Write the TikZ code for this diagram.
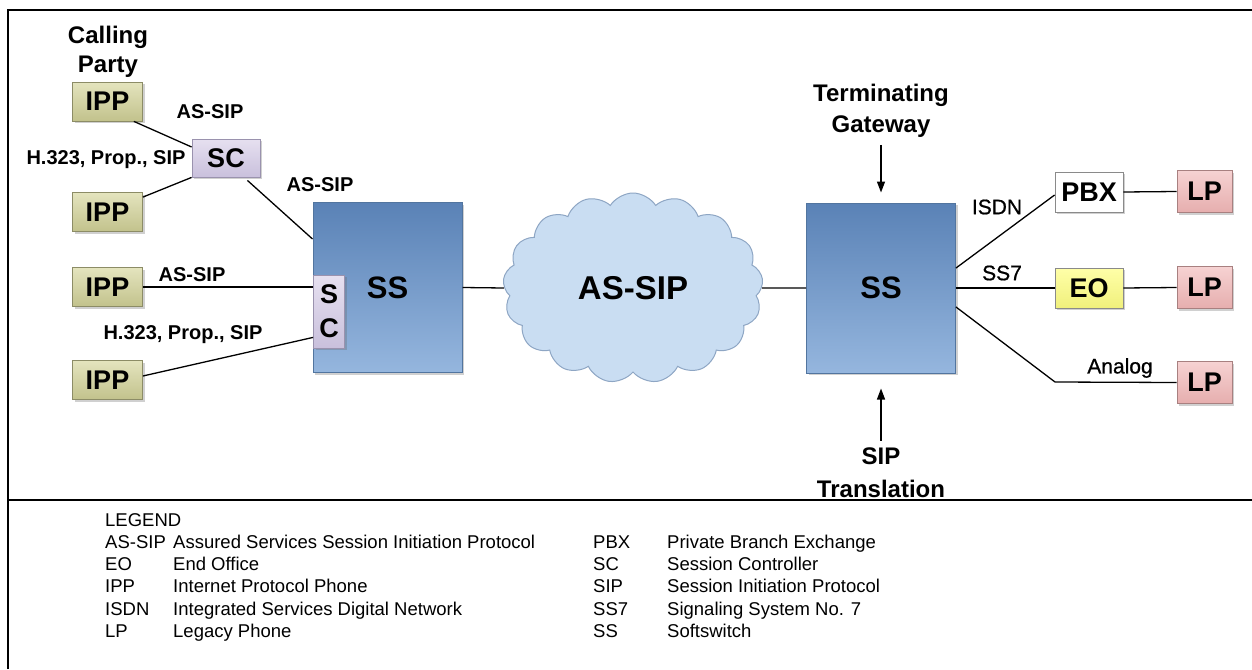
\documentclass[tikz,border=0pt]{standalone}
\usepackage{fontspec}
\setmainfont{Liberation Sans}
\usetikzlibrary{shapes.symbols,shadows,calc,arrows.meta}
\definecolor{ippTop}{HTML}{E4E4BE}
\definecolor{ippBot}{HTML}{C2C28C}
\definecolor{ippEdge}{HTML}{8C8C66}
\definecolor{scTop}{HTML}{E6E0F0}
\definecolor{scBot}{HTML}{C9C0DC}
\definecolor{scEdge}{HTML}{9A92AE}
\definecolor{ssTop}{HTML}{5A82B6}
\definecolor{ssBot}{HTML}{95B6DE}
\definecolor{ssEdge}{HTML}{52759F}
\definecolor{cloudFill}{HTML}{C9DDF2}
\definecolor{cloudEdge}{HTML}{8EA6C4}
\definecolor{eoTop}{HTML}{FFFFA8}
\definecolor{eoBot}{HTML}{F0F07C}
\definecolor{lpTop}{HTML}{F6D2D2}
\definecolor{lpBot}{HTML}{E6AEAE}
\definecolor{lpEdge}{HTML}{A88080}
\definecolor{boxEdge}{HTML}{8A8A8A}
\newcommand\dgBox{\fontsize{27}{34}\selectfont\bfseries}
\newcommand\dgSS{\fontsize{31}{34}\selectfont\bfseries}
\newcommand\dgCloud{\fontsize{33}{36}\selectfont\bfseries}
\newcommand\dgHead{\fontsize{24}{30}\selectfont\bfseries}
\newcommand\dgLab{\fontsize{20}{24}\selectfont\bfseries}
\newcommand\dgLabR{\fontsize{21}{24}\selectfont\addfontfeature{FakeBold=0.8}}
\newcommand\dgLeg{\fontsize{18.5}{22}\selectfont}
\tikzset{
  shad/.style={drop shadow={shadow xshift=2pt,shadow yshift=-2pt,opacity=0.3,fill=black!60}},
  ippbox/.style={shad,draw=ippEdge,line width=0.8pt,top color=ippTop,bottom color=ippBot,
    minimum width=70pt,minimum height=39pt,inner sep=0pt,font=\dgBox},
  scbox/.style={shad,draw=scEdge,line width=0.8pt,top color=scTop,bottom color=scBot,
    inner sep=0pt,font=\dgBox},
  ssbox/.style={shad,draw=ssEdge,line width=1pt,top color=ssTop,bottom color=ssBot,
    minimum width=149pt,minimum height=170pt,inner sep=0pt,font=\dgSS},
  pbxbox/.style={shad,draw=boxEdge,line width=0.8pt,fill=white,
    minimum width=68pt,minimum height=40pt,inner sep=0pt,font=\dgBox},
  eobox/.style={shad,draw=boxEdge,line width=0.8pt,top color=eoTop,bottom color=eoBot,
    minimum width=68pt,minimum height=40pt,inner sep=0pt,font=\dgBox},
  lpbox/.style={shad,draw=lpEdge,line width=0.8pt,top color=lpTop,bottom color=lpBot,
    minimum width=55pt,minimum height=42pt,inner sep=0pt,font=\dgBox},
  conn/.style={draw=black,line width=1.3pt},
  lab/.style={inner sep=0pt,font=\dgLab},
  labr/.style={inner sep=0pt,font=\dgLabR},
  head/.style={inner sep=0pt,font=\dgHead,align=center},
  legtext/.style={anchor=base west,inner sep=0pt,font=\dgLeg},
  frame/.style={draw=black,line width=2pt},
  pointer/.style={draw=black,line width=1.3pt,-{Triangle[length=11pt,width=8pt]}}
}
\begin{document}
\begin{tikzpicture}[x=1pt,y=-1pt]
\useasboundingbox (0,0) rectangle (1252,669);
\fill[white] (0,0) rectangle (1252,669);
% frame
\draw[frame] (8,669) -- (8,10) -- (1252,10);
\draw[draw=black,line width=1.8pt] (8,500) -- (1252,500);

% headings
\node[head] (calling) at (108,52) {Calling\\[-1pt]Party};
\node[head] (termgw) at (881,111) {Terminating\\[1pt]Gateway};
\node[head] (siptr) at (881,473) {SIP\\[3pt]Translation};

% left phones
\node[ippbox] (ipp1) at (107.5,101.5) {IPP};
\node[ippbox] (ipp2) at (107.5,212) {IPP};
\node[ippbox] (ipp3) at (107.5,287) {IPP};
\node[ippbox] (ipp4) at (107.5,380) {IPP};
\node[scbox,minimum width=68pt,minimum height=38pt] (sc) at (226,158) {SC};

% softswitches and cloud
\node[ssbox] (ss1) at (387.5,287.5) {SS};
\node[scbox,minimum width=31pt,minimum height=73pt,align=center] (ssc) at (329,311.5) {S\\C};
\node[cloud,cloud puffs=17,cloud puff arc=115,aspect=1.37,minimum width=260pt,minimum height=190pt,
  fill=cloudFill,draw=cloudEdge,line width=1pt,inner sep=0pt,font=\dgCloud] (cloud) at (633,288) {AS-SIP};
\node[ssbox] (ss2) at (881,288) {SS};

% right side
\node[pbxbox] (pbx) at (1089,192) {PBX};
\node[eobox] (eo) at (1089,288) {EO};
\node[lpbox] (lp1) at (1204.5,191.5) {LP};
\node[lpbox] (lp2) at (1204.5,287.5) {LP};
\node[lpbox] (lp3) at (1204.5,382.5) {LP};
\coordinate (bend) at (1055,382);

% connectors left
\draw[conn] ($(ipp1.south east)+(-9,0)$) -- ($(sc.west)+(0,-11)$);
\draw[conn] ($(ipp2.north east)+(0,5)$) -- (sc.south west);
\draw[conn] ($(sc.south east)+(-13,3)$) -- ($(ss1.north west)+(0,37)$);
\draw[conn] (ipp3.east) -- (ipp3.east -| ssc.west);
\draw[conn] ($(ipp4.east)+(0,-4)$) -- ($(ssc.south west)+(0,-11)$);
\draw[conn] (ss1.east) -- (cloud.west);
\draw[conn] (cloud.east) -- (ss2.west);

% connectors right
\draw[conn] ($(ss2.east)+(0,-20)$) -- ($(pbx.west)+(0,3)$);
\draw[conn] (ss2.east) -- (eo.west);
\draw[conn] ($(ss2.east)+(0,19)$) -- (bend) -- (lp3.west);
\draw[conn] (pbx.east) -- (lp1.west);
\draw[conn] (eo.east) -- (lp2.west);

% pointers
\coordinate (tga) at ($(termgw.south)+(0,7)$);
\coordinate (spa) at ($(siptr.north)+(0,-7)$);
\draw[pointer] (tga) -- ($(ss2.north)+(0,-10)$);
\draw[pointer] (spa) -- ($(ss2.south)+(0,15)$);

% connection labels
\node[lab] (l1) at (210,112) {AS-SIP};
\node[lab] (l2) at (106,160) {H.323, Prop., SIP};
\node[lab] (l3) at (320,185) {AS-SIP};
\node[lab] (l4) at (192,275) {AS-SIP};
\node[lab] (l5) at (183,335) {H.323, Prop., SIP};
\node[labr] (l6) at (997,207) {ISDN};
\node[labr] (l7) at (1002,273) {SS7};
\node[labr] (l8) at (1120,368) {Analog};

% legend
\node[legtext] (lg0) at (105,526) {LEGEND};
\node[legtext] (la1) at (105,548) {AS-SIP};
\node[legtext] (ld1) at (173,548) {Assured Services Session Initiation Protocol};
\node[legtext] (la2) at (105,570) {EO};
\node[legtext] (ld2) at (173,570) {End Office};
\node[legtext] (la3) at (105,592.5) {IPP};
\node[legtext] (ld3) at (173,592.5) {Internet Protocol Phone};
\node[legtext] (la4) at (105,615) {ISDN};
\node[legtext] (ld4) at (173,615) {Integrated Services Digital Network};
\node[legtext] (la5) at (105,637.5) {LP};
\node[legtext] (ld5) at (173,637.5) {Legacy Phone};
\node[legtext] (ra1) at (593,548) {PBX};
\node[legtext] (rd1) at (667,548) {Private Branch Exchange};
\node[legtext] (ra2) at (593,570) {SC};
\node[legtext] (rd2) at (667,570) {Session Controller};
\node[legtext] (ra3) at (593,592.5) {SIP};
\node[legtext] (rd3) at (667,592.5) {Session Initiation Protocol};
\node[legtext] (ra4) at (593,615) {SS7};
\node[legtext] (rd4) at (667,615) {Signaling System No. 7};
\node[legtext] (ra5) at (593,637.5) {SS};
\node[legtext] (rd5) at (667,637.5) {Softswitch};
\end{tikzpicture}
\end{document}
